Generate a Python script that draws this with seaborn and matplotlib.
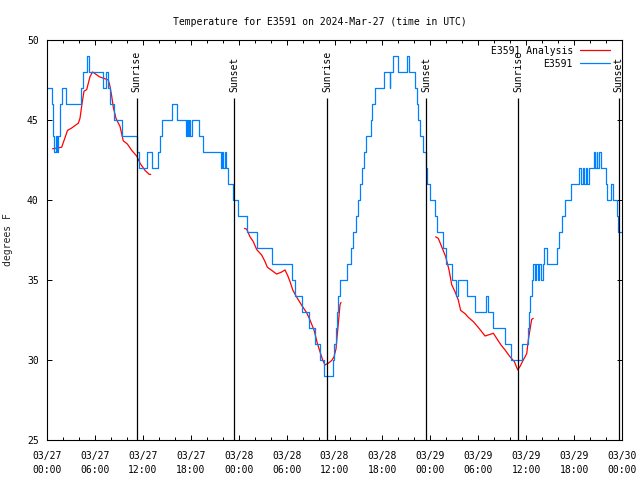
import pandas as pd
import matplotlib
matplotlib.use("Agg")
import matplotlib.pyplot as plt
import seaborn as sns

# hours after 2024-03-27 00:00 UTC, temperature in degrees F
obs_hours = [0.00, 0.63, 0.75, 0.81, 0.88, 1.13, 1.25, 1.38, 1.57, 1.69, 1.88, 2.32,
             4.26, 4.45, 4.95, 5.20, 7.05, 7.39, 7.70, 7.95, 8.33, 9.33, 11.33, 11.58,
             12.52, 13.09, 13.96, 14.15, 14.40, 15.61, 16.24, 17.37, 17.57, 17.66, 17.82,
             17.91, 18.12, 19.07, 19.50, 21.79, 21.91, 22.10, 22.23, 22.41, 22.66, 23.25,
             23.95, 25.08, 26.33, 28.14, 30.64, 31.05, 31.97, 32.81, 33.56, 34.18, 34.69,
             35.81, 35.98, 36.13, 36.31, 36.50, 36.69, 37.53, 38.03, 38.36, 38.69, 38.98,
             39.19, 39.44, 39.73, 39.91, 40.57, 40.66, 41.07, 42.20, 42.89, 43.01, 43.33,
             43.89, 45.08, 45.27, 46.08, 46.27, 46.46, 46.71, 47.08, 47.40, 47.58, 47.96,
             48.59, 48.87, 49.62, 49.92, 50.68, 51.25, 51.47, 52.63, 53.59, 54.93, 55.26,
             55.81, 57.35, 58.10, 59.44, 60.29, 60.39, 60.48, 60.67, 60.86, 61.05, 61.23,
             61.42, 61.61, 61.86, 62.05, 62.27, 62.57, 63.82, 64.15, 64.45, 64.86, 65.61,
             66.62, 66.87, 67.06, 67.24, 67.43, 67.62, 67.81, 68.53, 68.68, 68.81, 68.93,
             69.06, 69.31, 70.00, 70.16, 70.59, 70.84, 71.34, 71.54, 72.00]
obs_temps = [47, 46, 45, 44, 43, 44, 43, 44, 45, 46, 47, 46,
             47, 48, 49, 48, 47, 48, 47, 46, 45, 44, 43, 42,
             43, 42, 43, 44, 45, 46, 45, 44, 45, 44, 45,
             44, 45, 44, 43, 42, 43, 42, 43, 42, 41, 40,
             39, 38, 37, 36, 35, 34, 33, 32, 31, 30, 29,
             30, 31, 32, 33, 34, 35, 36, 37, 38, 39, 40,
             41, 42, 43, 44, 45, 46, 47, 48, 47, 48, 49,
             48, 49, 48, 47, 46, 45, 44, 43, 42, 41, 40,
             39, 38, 37, 36, 35, 34, 35, 34, 33, 34, 33,
             32, 31, 30, 31, 32, 33, 34, 35, 36, 35, 36,
             35, 36, 35, 36, 37, 36, 37, 38, 39, 40, 41,
             42, 41, 42, 41, 42, 41, 42, 43, 42, 43, 42,
             43, 42, 41, 40, 41, 40, 39, 38, 38]

ana_hours_1 = [0.69, 1.84, 2.57, 3.09, 3.92, 4.13, 4.35, 4.63, 4.97, 5.38, 5.70, 6.01,
               6.57, 7.14, 7.68, 7.89, 8.10, 8.30, 8.64, 9.14, 9.55, 10.06, 10.61,
               11.23, 11.65, 12.27, 12.81, 12.99]
ana_temps_1 = [43.2, 43.3, 44.35, 44.5, 44.8, 45.1, 45.9, 46.8, 46.9, 47.7, 48.0, 47.9,
               47.7, 47.6, 47.5, 47.1, 46.5, 45.8, 45.1, 44.6, 43.7, 43.5, 43.1,
               42.75, 42.3, 41.85, 41.6, 41.6]
ana_hours_2 = [24.73, 25.01, 25.42, 25.83, 26.26, 26.88, 27.30, 27.59, 28.14, 28.76, 29.39,
               29.80, 30.12, 30.43, 30.77, 31.18, 31.89, 32.52, 32.93, 33.43, 33.85, 34.18,
               34.52, 34.81, 35.22, 35.65, 35.94, 36.19, 36.48, 36.69, 36.81]
ana_temps_2 = [38.23, 38.17, 37.7, 37.4, 36.9, 36.56, 36.15, 35.8, 35.6, 35.37, 35.5,
               35.63, 35.3, 34.9, 34.38, 34.0, 33.42, 32.95, 32.5, 31.88, 31.05, 30.52,
               30.0, 29.69, 29.8, 29.97, 30.2, 30.7, 32.3, 33.45, 33.6]
ana_hours_3 = [48.67, 49.00, 49.42, 49.92, 50.34, 50.68, 51.09, 51.50, 51.80, 52.34, 52.75,
               53.38, 53.93, 54.43, 54.85, 55.47, 55.89, 56.31, 56.85, 57.35, 57.98, 58.52,
               58.94, 59.23, 59.64, 60.07, 60.27, 60.48, 60.69, 60.89]
ana_temps_3 = [37.7, 37.6, 37.08, 36.46, 35.63, 34.7, 34.27, 33.75, 33.1, 32.9, 32.67,
               32.4, 32.08, 31.77, 31.5, 31.6, 31.67, 31.35, 30.94, 30.63, 30.2, 29.9,
               29.38, 29.6, 30.0, 30.4, 31.25, 31.9, 32.54, 32.6]

sun_hours = [11.23, 23.45, 35.10, 47.50, 59.02, 71.59]
sun_labels = ["Sunrise", "Sunset", "Sunrise", "Sunset", "Sunrise", "Sunset"]

tick_hours = list(range(0, 73, 6))
tick_labels = ["03/27\n00:00", "03/27\n06:00", "03/27\n12:00", "03/27\n18:00",
               "03/28\n00:00", "03/28\n06:00", "03/28\n12:00", "03/28\n18:00",
               "03/29\n00:00", "03/29\n06:00", "03/29\n12:00", "03/29\n18:00",
               "03/30\n00:00"]

start = pd.Timestamp("2024-03-27 00:00")


def to_time(hours):
    return start + pd.to_timedelta(hours, unit="h")


obs_df = pd.DataFrame({"time": to_time(obs_hours), "temp": obs_temps})
ana_segments = [(ana_hours_1, ana_temps_1), (ana_hours_2, ana_temps_2), (ana_hours_3, ana_temps_3)]

sns.set_style("ticks", {"xtick.direction": "in", "ytick.direction": "in",
                        "axes.edgecolor": "black", "xtick.color": "black",
                        "ytick.color": "black", "text.color": "black"})
plt.rcParams['font.family'] = ['DejaVu Sans Mono']
plt.rcParams['font.size'] = 7

fig = plt.figure(figsize=(6.4, 4.8), dpi=100)
ax = fig.add_axes([47 / 640, 40 / 480, 575 / 640, 400 / 480])

# analysis segments (red)
for i, (h, t) in enumerate(ana_segments):
    seg = pd.DataFrame({"time": to_time(h), "temp": t})
    sns.lineplot(data=seg, x="time", y="temp", color="red", linewidth=0.9,
                 estimator=None, ax=ax, label="E3591 Analysis" if i == 0 else None)

# observations (blue)
sns.lineplot(data=obs_df, x="time", y="temp", color="#0080ff", linewidth=0.9,
             drawstyle="steps-post", estimator=None, ax=ax, label="E3591")

# sunrise / sunset markers
for h, lab in zip(sun_hours, sun_labels):
    ax.vlines(to_time(h), 25, 46.4, color="black", linewidth=0.9)
    ax.text(to_time(h), 46.75, lab, rotation=90, ha="center", va="bottom", fontsize=7)

ax.set_xlim(to_time(0), to_time(72))
ax.set_ylim(25, 50)
ax.set_yticks([25, 30, 35, 40, 45, 50])
ax.set_xticks([to_time(h) for h in tick_hours])
ax.set_xticklabels(tick_labels)
ax.set_xticks([to_time(h) for h in range(0, 73, 2)], minor=True)
for lbl in ax.get_xticklabels():
    lbl.set_linespacing(1.45)
ax.tick_params(axis="both", which="major", length=3.5, width=0.7, top=True, right=True,
               labelsize=7, pad=6)
ax.tick_params(axis="x", which="major", pad=8)
ax.tick_params(axis="x", which="minor", length=2, width=0.7, top=True)
for sp in ax.spines.values():
    sp.set_linewidth(0.8)

ax.set_xlabel("")
ax.set_ylabel("degrees F", fontsize=7, labelpad=10)
fig.suptitle("Temperature for E3591 on 2024-Mar-27 (time in UTC)", fontsize=7, y=0.965)

ax.legend(loc="upper right", bbox_to_anchor=(0.979, 0.986), frameon=False, markerfirst=False,
          handlelength=3.1, handletextpad=0.7, labelspacing=0.3, borderaxespad=0,
          borderpad=0, fontsize=7)

fig.savefig("out.png", dpi=100)
